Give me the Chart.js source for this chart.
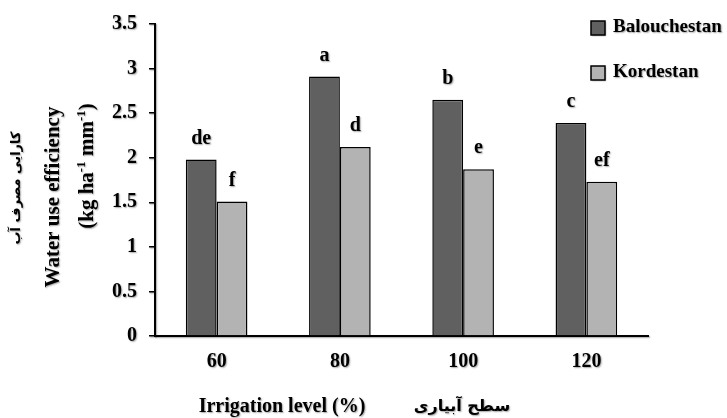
<!DOCTYPE html>
<html>
<head>
<meta charset="utf-8">
<script src="https://cdn.jsdelivr.net/npm/chart.js@4/dist/chart.umd.min.js"></script>
<style>
  html, body { margin: 0; padding: 0; background: #ffffff; }
  #wrap { width: 727px; height: 418px; }
</style>
</head>
<body>
<div id="wrap"><canvas id="c" width="727" height="418"></canvas></div>
<script>
// Water use efficiency by irrigation level for two ecotypes
const categories = ['60', '80', '100', '120'];
const balouchestan = [1.98, 2.91, 2.65, 2.39];
const kordestan = [1.51, 2.12, 1.87, 1.73];
const balouchestanLetters = ['de', 'a', 'b', 'c'];
const kordestanLetters = ['f', 'd', 'e', 'ef'];
const seriesNames = ['Balouchestan', 'Kordestan'];
const yMin = 0, yMax = 3.5, yStep = 0.5;

const SERIF = "'Liberation Serif', 'Times New Roman', serif";
const ARABIC = "'DejaVu Sans', 'Noto Sans', sans-serif";
const DARK = '#606060';
const LIGHT = '#b3b3b3';

function textShadow(ctx) {
  ctx.shadowColor = 'rgba(0,0,0,0.35)';
  ctx.shadowOffsetX = 1;
  ctx.shadowOffsetY = 1;
  ctx.shadowBlur = 1.5;
}

// soft shadow for axis text, switched off before bars are drawn
const shadowAxes = {
  id: 'shadowAxes',
  beforeDraw(chart) { chart.ctx.save(); textShadow(chart.ctx); },
  beforeDatasetsDraw(chart) { chart.ctx.restore(); }
};

// significance letters above each bar
const letterLabels = {
  id: 'letterLabels',
  afterDatasetsDraw(chart) {
    const ctx = chart.ctx;
    const letters = [balouchestanLetters, kordestanLetters];
    ctx.save();
    textShadow(ctx);
    ctx.fillStyle = '#000';
    ctx.font = 'bold 20px ' + SERIF;
    ctx.textAlign = 'center';
    ctx.textBaseline = 'middle';
    chart.data.datasets.forEach((ds, di) => {
      chart.getDatasetMeta(di).data.forEach((bar, i) => {
        ctx.fillText(letters[di][i], bar.x, bar.y - 21);
      });
    });
    ctx.restore();
  }
};

// axis titles (Persian and English) and the legend
const decorations = {
  id: 'decorations',
  afterDraw(chart) {
    const ctx = chart.ctx;
    ctx.save();
    textShadow(ctx);
    ctx.fillStyle = '#000';
    ctx.textBaseline = 'middle';

    // x-axis titles
    ctx.textAlign = 'center';
    ctx.font = 'bold 20px ' + SERIF;
    ctx.fillText('Irrigation level (%)', 282, 407);
    ctx.font = 'bold 16px ' + ARABIC;
    ctx.fillText('سطح آبیاری', 462, 407);

    // y-axis titles, rotated
    ctx.save();
    ctx.translate(17, 188);
    ctx.rotate(-Math.PI / 2);
    ctx.font = 'bold 13px ' + ARABIC;
    ctx.textAlign = 'center';
    ctx.fillText('کارایی مصرف آب', 0, 0);
    ctx.restore();

    ctx.save();
    ctx.translate(54, 197);
    ctx.rotate(-Math.PI / 2);
    ctx.font = 'bold 21px ' + SERIF;
    ctx.textAlign = 'center';
    ctx.fillText('Water use efficiency', 0, 0);
    ctx.restore();

    ctx.save();
    ctx.translate(88, 166);
    ctx.rotate(-Math.PI / 2);
    const parts = [
      { t: '(kg ha', sup: false }, { t: '-1', sup: true },
      { t: ' mm', sup: false }, { t: '-1', sup: true }, { t: ')', sup: false }
    ];
    const normal = 'bold 21px ' + SERIF, small = 'bold 13px ' + SERIF;
    let total = 0;
    parts.forEach(p => { ctx.font = p.sup ? small : normal; p.w = ctx.measureText(p.t).width; total += p.w; });
    let x = -total / 2;
    ctx.textAlign = 'left';
    parts.forEach(p => {
      ctx.font = p.sup ? small : normal;
      ctx.fillText(p.t, x, p.sup ? -6 : 0);
      x += p.w;
    });
    ctx.restore();

    // legend
    const items = [
      { name: seriesNames[0], color: DARK, y: 21 },
      { name: seriesNames[1], color: LIGHT, y: 66 }
    ];
    ctx.textAlign = 'left';
    ctx.font = 'bold 19px ' + SERIF;
    items.forEach(it => {
      ctx.fillStyle = it.color;
      ctx.fillRect(591, it.y, 14, 14);
      ctx.shadowColor = 'rgba(0,0,0,0)';
      ctx.strokeStyle = '#000';
      ctx.lineWidth = 1.5;
      ctx.strokeRect(591, it.y, 14, 14);
      textShadow(ctx);
      ctx.fillStyle = '#000';
      ctx.fillText(it.name, 613, it.y + 6);
    });
    ctx.restore();
  }
};

new Chart(document.getElementById('c'), {
  type: 'bar',
  data: {
    labels: categories,
    datasets: [
      { label: seriesNames[0], data: balouchestan, backgroundColor: DARK,
        borderColor: '#000', borderWidth: 1.5 },
      { label: seriesNames[1], data: kordestan, backgroundColor: LIGHT,
        borderColor: '#000', borderWidth: 1.5 }
    ]
  },
  options: {
    responsive: false,
    animation: false,
    devicePixelRatio: 1,
    layout: { padding: { left: 0, right: 79, top: 23, bottom: 0 } },
    datasets: { bar: { categoryPercentage: 0.5, barPercentage: 1.0 } },
    plugins: {
      legend: { display: false },
      tooltip: { enabled: false }
    },
    scales: {
      x: {
        offset: true,
        grid: { display: false, drawTicks: false },
        border: { display: true, color: '#000', width: 2 },
        ticks: { color: '#000', font: { family: SERIF, size: 20, weight: 'bold' }, padding: 14 },
        afterFit(scale) { scale.height = 82; }
      },
      y: {
        min: yMin,
        max: yMax,
        grid: { display: true, drawOnChartArea: false, color: '#000', tickLength: 6, lineWidth: 1.5 },
        border: { display: true, color: '#000', width: 2 },
        ticks: {
          stepSize: yStep,
          color: '#000',
          font: { family: SERIF, size: 20, weight: 'bold' },
          padding: 12,
          callback: v => String(v)
        },
        afterFit(scale) { scale.width = 155; }
      }
    }
  },
  plugins: [shadowAxes, letterLabels, decorations]
});
</script>
</body>
</html>
